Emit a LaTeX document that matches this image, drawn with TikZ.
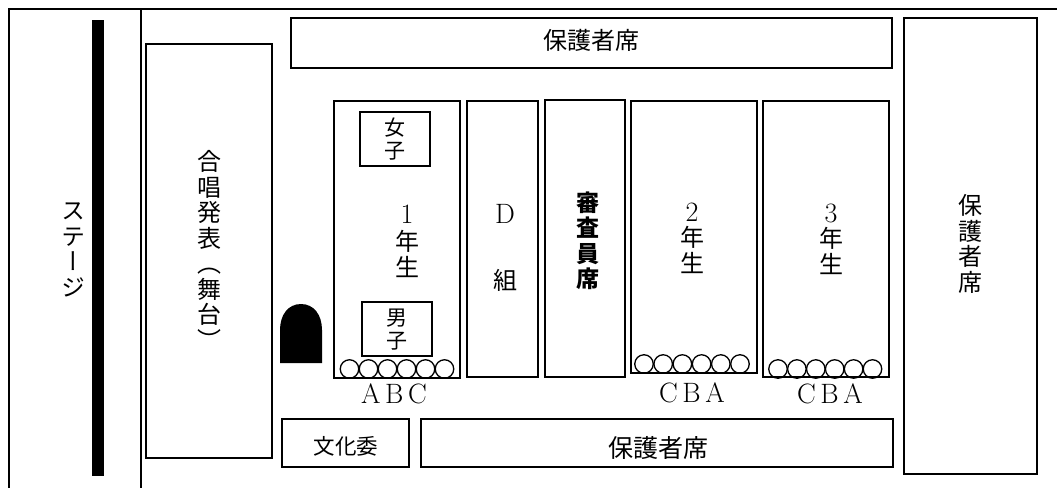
\documentclass[tikz,border=0pt]{standalone}
\usepackage{fontspec}
\setmainfont{Latin Modern Roman}
\newfontfamily\jpfont{Noto Sans CJK JP}[Scale=1.0]
\newfontfamily\jpvert{Noto Sans CJK JP}[RawFeature=+vert]

\begin{document}
\begin{tikzpicture}
[
x=1pt, y=-1pt,
frameline/.style={line width=2.4pt},
seatbox/.style={draw=black, line width=1.7pt},
seat/.style={circle, draw=black, line width=1.3pt, inner sep=0pt, minimum size=18.5pt},
yoko/.style={inner sep=0pt, font=\jpfont\fontsize{24}{26}\selectfont},
tate/.style={inner sep=0pt, align=center, font=\jpvert\fontsize{24}{25.5}\selectfont},
romaji/.style={inner sep=0pt, font=\fontsize{28}{28}\selectfont}
]
\useasboundingbox (0,0) rectangle (1057,488);

% outer lines and stage
\draw[frameline] (1057,9) -- (9,9) -- (9,488);
\draw[frameline] (141,9) -- (141,488);
\fill[black] (92,20) rectangle (104,476);

% boxes
\draw[seatbox] (146,44) rectangle (272,458);
\draw[seatbox] (291,18) rectangle (892,68);
\draw[seatbox] (904,18) rectangle (1037,474);
\draw[seatbox] (334,101) rectangle (460,378);
\draw[seatbox] (467,101) rectangle (538,377);
\draw[seatbox] (545,100) rectangle (625,377);
\draw[seatbox] (631,101) rectangle (757,373);
\draw[seatbox] (763,101) rectangle (889,377);
\draw[seatbox] (360,112) rectangle (430,166);
\draw[seatbox] (362,302) rectangle (432,356);
\draw[seatbox] (282,419) rectangle (409,467);
\draw[seatbox] (421,419) rectangle (893,467);

% entrance
\fill[black] (280,363) -- (280,330) .. controls (280,315) and (288,304) .. (301,304)
  .. controls (314,304) and (322,315) .. (322,330) -- (322,363) -- cycle;

% seats
\foreach \i in {0,...,5} {
  \node[seat] (first\i) at (349.5+19*\i,369) {};
  \node[seat] (second\i) at (644+19.2*\i,364) {};
  \node[seat] (third\i) at (778+18.9*\i,369) {};
}

% labels
\node[tate] (stage) at (73,250) {ス\\テ\\ー\\ジ};
\node[tate] (chorus) at (209,250) {合\\唱\\発\\表\\（\\舞\\台\\）};
\node[yoko] (parentstop) at (591,40) {保護者席};
\node[yoko, font=\jpfont\fontsize{25}{26}\selectfont] (parentsbottom) at (658,448) {保護者席};
\node[tate] (parentsright) at (970,244) {保\\護\\者\\席};
\node[yoko, font=\jpfont\fontsize{21.5}{23}\selectfont] (bunkai) at (346,446) {文化委};
\node[tate, font=\jpfont\fontsize{21}{23}\selectfont] (girls) at (395,139) {女\\子};
\node[tate, font=\jpfont\fontsize{21}{23}\selectfont] (boys) at (397,330) {男\\子};
\node[romaji] (one) at (407,214) {1};
\node[tate] (firstyear) at (407,254) {年\\生};
\node[romaji] (dee) at (505,214) {D};
\node[tate] (dgroup) at (505,280) {組};
\node[tate, font=\jpfont\bfseries\fontsize{23}{25.5}\selectfont] (judges) at (588,241) {審\\査\\員\\席};
\node[romaji] (two) at (692,212) {2};
\node[tate] (secondyear) at (692,250) {年\\生};
\node[romaji] (three) at (831,213) {3};
\node[tate] (thirdyear) at (831,251) {年\\生};
\node[romaji] (abc) at (394,394) {A\,B\,C};
\node[romaji] (cbaone) at (692,393) {C\,B\,A};
\node[romaji] (cbatwo) at (830,394) {C\,B\,A};
\end{tikzpicture}
\end{document}
